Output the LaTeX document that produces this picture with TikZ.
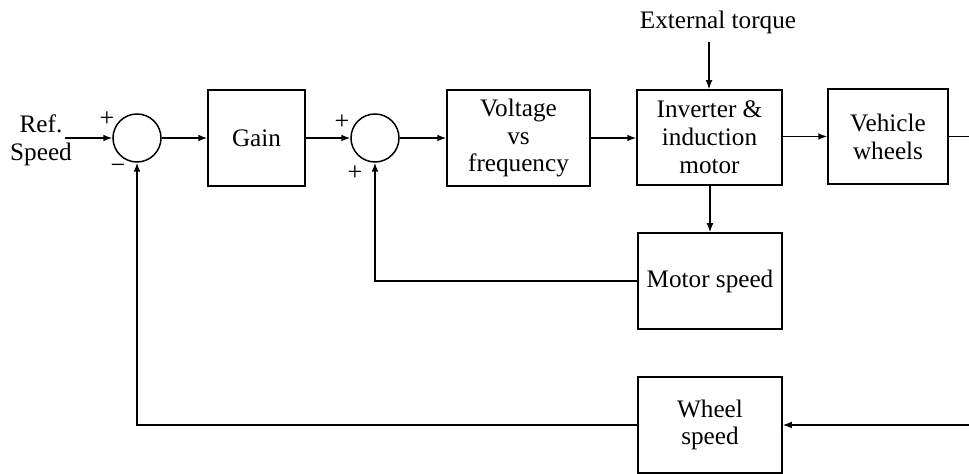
\documentclass[tikz,border=0pt]{standalone}
\usepackage{fontspec}
\setmainfont{Liberation Serif}
\usetikzlibrary{arrows.meta}

\tikzset{every picture/.style={line width=0.75pt}}
\tikzset{
blk/.style={draw, inner sep=0pt, minimum height=48pt, align=center, font=\fontsize{12.6}{13.9}\selectfont},
sumnode/.style={draw, circle, inner sep=0pt, minimum size=24pt},
lbl/.style={inner sep=0pt, align=center, font=\fontsize{12.6}{13.9}\selectfont},
sgn/.style={inner sep=0pt, font=\fontsize{13}{14}\selectfont},
arr/.style={-{Latex[length=4.5pt,width=3.4pt]}}}

\begin{document}
\begin{tikzpicture}[x=0.5pt,y=0.5pt,yscale=-1,xscale=1]
\useasboundingbox (0,0) rectangle (969,474);

%Shape: Circle [id:sum1]
\node [sumnode] (s1) at (137,138) {};
%Shape: Circle [id:sum2]
\node [sumnode] (s2) at (375,138) {};

%Shape: Rectangle [id:gain]
\node [blk, minimum width=48.5pt] (gain) at (256.5,138) {Gain};
%Shape: Rectangle [id:vf]
\node [blk, minimum width=71.5pt] (vf) at (518.5,138) {Voltage\\vs\\frequency};
%Shape: Rectangle [id:inv]
\node [blk, minimum width=72.5pt, minimum height=47.5pt] (inv) at (709.5,137.5) {Inverter \&\\induction\\motor};
%Shape: Rectangle [id:veh]
\node [blk, minimum width=60pt, minimum height=47.5pt] (veh) at (888,136.5) {Vehicle\\wheels};
%Shape: Rectangle [id:mspd]
\node [blk, minimum width=72pt] (mspd) at (710,281) {Motor speed};
%Shape: Rectangle [id:wspd]
\node [blk, minimum width=72pt] (wspd) at (710,425) {Wheel\\speed};

% Text Node
\node [lbl] (ref) at (41,140) {Ref.\\Speed};
% Text Node
\node [lbl] (ext) at (718,22) {External torque};
% Text Node
\node [sgn] (p1) at (107,119) {+};
\node [sgn] (m1) at (118,169) {−};
\node [sgn] (p2) at (342,122) {+};
\node [sgn] (p3) at (355,173) {+};

\coordinate (in) at (65,138);
\coordinate (tq) at (709,42);
\coordinate (out) at (969,136.5);
\coordinate (fb) at (969,425);

%Straight Lines
\draw [arr] (in) -- (s1.west);
\draw [arr] (s1.east) -- (gain.west);
\draw [arr] (gain.east) -- (s2.west);
\draw [arr] (s2.east) -- (vf.west);
\draw [arr] (vf.east) -- (inv.west |- vf.east);
\draw [arr] (inv.east |- veh.west) -- (veh.west);
\draw (veh.east) -- (out);
\draw [arr] (tq) -- (tq |- inv.north);
\draw [arr] (inv.south -| mspd.north) -- (mspd.north);
%Feedback Lines
\draw [arr] (mspd.west) -| (s2.south);
\draw [arr] (fb) -- (wspd.east);
\draw [arr] (wspd.west) -| (s1.south);

\end{tikzpicture}
\end{document}
